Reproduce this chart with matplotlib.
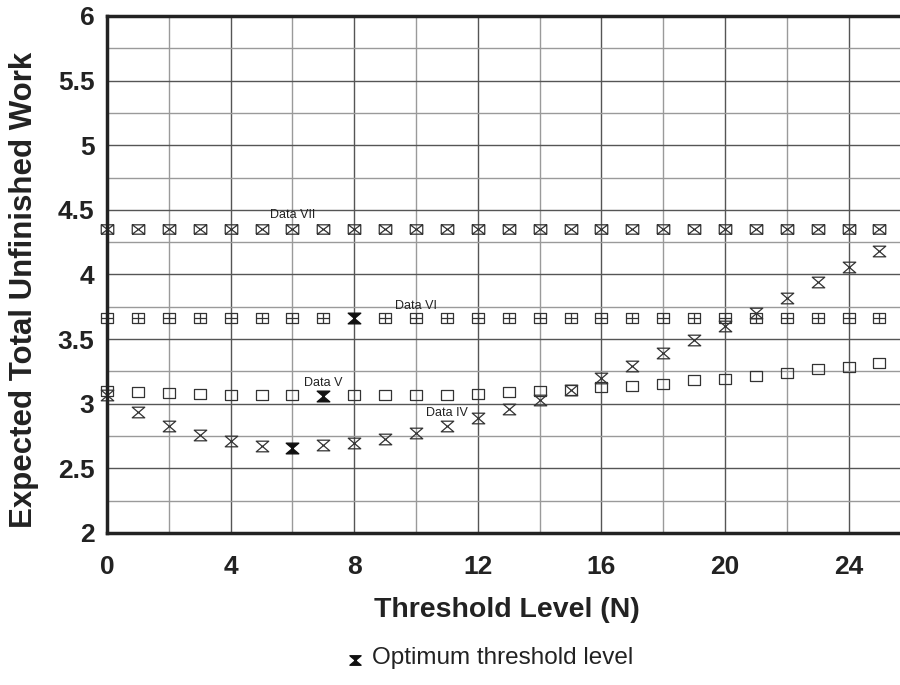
import matplotlib.pyplot as plt
import numpy as np
from matplotlib.path import Path
from matplotlib.lines import Line2D

plt.rcParams['font.family'] = ['Liberation Sans', 'DejaVu Sans']

# threshold levels
n = np.arange(0, 26)

data_iv = [3.07, 2.94, 2.83, 2.76, 2.71, 2.67, 2.66, 2.68, 2.70, 2.73,
           2.77, 2.83, 2.89, 2.96, 3.03, 3.11, 3.20, 3.29, 3.39, 3.49,
           3.60, 3.70, 3.82, 3.94, 4.06, 4.18]
data_v = [3.10, 3.09, 3.085, 3.075, 3.07, 3.068, 3.068, 3.062, 3.065, 3.065,
          3.065, 3.07, 3.078, 3.088, 3.10, 3.11, 3.13, 3.14, 3.155, 3.18,
          3.19, 3.217, 3.24, 3.266, 3.287, 3.318]
data_vi = [3.66] * 26
data_vii = [4.355] * 26

# optimum threshold (index) per series
opt_iv = 6
opt_v = 7
opt_vi = 8

labels = ["Data IV", "Data V", "Data VI", "Data VII"]
label_pos = [(11.0, 2.93), (7.0, 3.16), (10.0, 3.76), (6.0, 4.46)]

xticks = [0, 4, 8, 12, 16, 20, 24]
yticks = [2, 2.5, 3, 3.5, 4, 4.5, 5, 5.5, 6]
ytick_labels = ["2", "2.5", "3", "3.5", "4", "4.5", "5", "5.5", "6"]

# marker shapes (wider than tall, like the original)
w, h = 1.0, 0.75
M, L = Path.MOVETO, Path.LINETO
box_v = [(-w, -h), (w, -h), (w, h), (-w, h), (-w, -h)]
box_c = [M, L, L, L, L]
m_box = Path(box_v, box_c)
m_boxx = Path(box_v + [(-w, -h), (w, h), (-w, h), (w, -h)], box_c + [M, L, M, L])
m_boxplus = Path(box_v + [(0, -h), (0, h), (-w, 0), (w, 0)], box_c + [M, L, M, L])
hw, hh = 1.0, 0.85
m_hour = Path([(-hw, hh), (hw, hh), (-hw, -hh), (hw, -hh), (-hw, hh)],
              [M, L, L, L, Path.CLOSEPOLY])

fig = plt.figure(figsize=(9, 6.85), dpi=100)
ax = fig.add_axes([107 / 900, 1 - 533 / 685, 800 / 900, 517 / 685])
ax.set_xlim(0, 800 / 30.9)
ax.set_ylim(2, 6)

ax.set_xticks(np.arange(0, 26, 2), minor=True)
ax.set_yticks(np.arange(2, 6.01, 0.25), minor=True)
ax.set_xticks(xticks)
ax.set_yticks(yticks)
ax.set_yticklabels(ytick_labels)
ax.grid(True, which='major', color='#555555', lw=1.0)
ax.grid(True, which='minor', color='#9a9a9a', lw=1.0)
ax.set_axisbelow(True)
ax.tick_params(which='both', length=0)
ax.tick_params(axis='x', pad=16, labelsize=19)
ax.tick_params(axis='y', pad=9, labelsize=19)
for t in ax.get_xticklabels() + ax.get_yticklabels():
    t.set_fontweight('bold')
    t.set_color('#222222')

for side in ['left', 'top', 'bottom']:
    ax.spines[side].set_linewidth(2.5)
    ax.spines[side].set_color('#222222')
ax.spines['right'].set_visible(False)

mk = dict(ls='none', mfc='none', mec='#333333', mew=0.9, ms=9, clip_on=False)


def drop(vals, idx):
    return np.delete(n, idx), np.delete(np.array(vals), idx)


ax.plot(n, data_vii, marker=m_boxx, **mk)
x, y = drop(data_vi, opt_vi)
ax.plot(x, y, marker=m_boxplus, **mk)
x, y = drop(data_v, opt_v)
ax.plot(x, y, marker=m_box, **mk)
x, y = drop(data_iv, opt_iv)
ax.plot(x, y, marker=m_hour, **mk)

ax.plot([opt_iv, opt_v, opt_vi], [data_iv[opt_iv], data_v[opt_v], data_vi[opt_vi]],
        ls='none', marker=m_hour, mfc='#111111', mec='#111111', ms=9)

for lab, (lx, ly) in zip(labels, label_pos):
    ax.text(lx, ly, lab, fontsize=9, ha='center', va='center', color='#222222')

ax.set_xlabel("Threshold Level (N)", fontsize=20.5, fontweight='bold', color='#222222')
ax.set_ylabel("Expected Total Unfinished Work", fontsize=22.5, fontweight='bold',
              color='#222222')
ax.xaxis.set_label_coords(0.5, (533 - 610) / 517)
ax.xaxis.label.set_va('center')
ax.yaxis.set_label_coords((24 - 107) / 800, (533 - 290) / 517)
ax.yaxis.label.set_va('center')

# legend for the optimum marker
fig.add_artist(Line2D([355 / 900], [1 - 660 / 685], ls='none', marker=m_hour,
                      mfc='#111111', mec='#111111', ms=8, transform=fig.transFigure))
fig.text(372 / 900, 1 - 658 / 685, "Optimum threshold level", fontsize=17.5,
         ha='left', va='center', color='#222222')

fig.savefig("out.png", dpi=100)
